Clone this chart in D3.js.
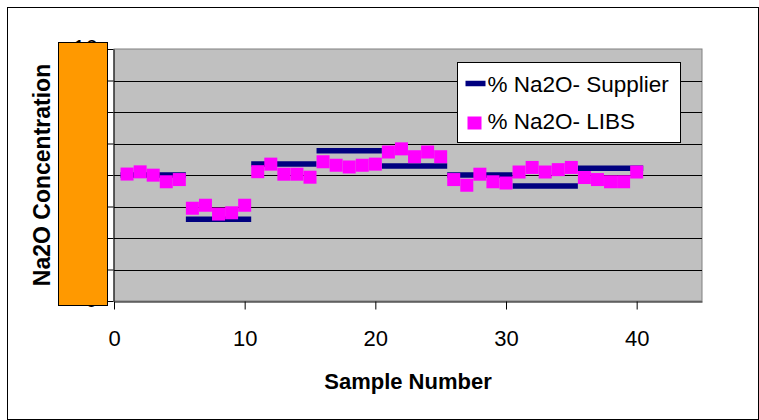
<!DOCTYPE html>
<html>
<head>
<meta charset="utf-8">
<script src="https://cdnjs.cloudflare.com/ajax/libs/d3/7.8.5/d3.min.js"></script>
<style>
  body { margin: 0; background: #fff; }
  text { font-family: "Liberation Sans", Arial, sans-serif; fill: #000; }
</style>
</head>
<body>
<div id="chart"></div>
<script>
// data
var samples = d3.range(1, 41);
var libs = [8.06, 8.20, 7.99, 7.57, 7.71, 5.89, 6.08, 5.52, 5.60, 6.08,
            8.21, 8.69, 8.05, 8.05, 7.86, 8.84, 8.62, 8.51, 8.62, 8.69,
            9.46, 9.66, 9.16, 9.46, 9.16, 7.71, 7.35, 8.05, 7.57, 7.49,
            8.19, 8.48, 8.19, 8.34, 8.48, 7.84, 7.71, 7.57, 7.57, 8.19];
// supplier value per group of 5 samples
var groupStart = [1, 6, 11, 16, 21, 26, 31, 36];
var groupEnd = [5, 10, 15, 20, 25, 30, 35, 40];
var supplier = [8.0, 5.19, 8.70, 9.54, 8.57, 8.0, 7.30, 8.43];
var xTicks = [0, 10, 20, 30, 40];
var yTicks = [0, 2, 4, 6, 8, 10, 12, 14, 16];

var W = 759, H = 420;
var margin = { top: 49, left: 114, bottom: 119, right: 57 },
    width = W - margin.left - margin.right,
    height = H - margin.top - margin.bottom;

var root = d3.select('#chart').append('svg')
    .attr('width', W)
    .attr('height', H);

// outer chart border
root.append('rect')
    .attr('x', 7.5).attr('y', 7.5)
    .attr('width', 751).attr('height', 412)
    .attr('fill', '#fff')
    .attr('stroke', '#000');

var svg = root.append('g')
    .attr('transform', 'translate(' + margin.left + ', ' + margin.top + ')');

var x = d3.scaleLinear().domain([0, 45]).range([0, width]);
var y = d3.scaleLinear().domain([0, 16]).range([height, 0]);

// plot area
svg.append('rect')
    .attr('width', width)
    .attr('height', height)
    .attr('fill', '#c0c0c0')
    .attr('stroke', '#808080');

// gridlines
svg.selectAll('.grid')
    .data(yTicks.slice(1, -1))
    .enter()
    .append('line')
    .attr('class', 'grid')
    .attr('x1', 0).attr('x2', width)
    .attr('y1', d => Math.round(y(d)) + 0.5)
    .attr('y2', d => Math.round(y(d)) + 0.5)
    .attr('stroke', '#000');

// x axis
var xAxis = d3.axisBottom(x)
    .tickValues(xTicks)
    .tickSize(8)
    .tickSizeOuter(0);

var gx = svg.append('g')
    .attr('class', 'xAxis')
    .attr('transform', 'translate(0,' + (height + 0.5) + ')')
    .call(xAxis);
gx.select('.domain').attr('stroke', '#000');
gx.selectAll('text')
    .attr('dy', null)
    .attr('y', 44)
    .style('font-size', '22px')
    .style('font-family', '"Liberation Sans", Arial, sans-serif');

// y axis (labels sit under the orange block)
var yAxis = d3.axisLeft(y)
    .tickValues(yTicks)
    .tickSize(6)
    .tickSizeOuter(0);

var gy = svg.append('g')
    .attr('class', 'axis')
    .attr('transform', 'translate(-0.5,0)')
    .call(yAxis);
gy.selectAll('text')
    .attr('x', -16)
    .attr('dy', '0.27em')
    .style('font-size', '22px')
    .style('font-family', '"Liberation Sans", Arial, sans-serif');

// supplier values, thick dashes per group
svg.selectAll('.supplier')
    .data(supplier)
    .enter()
    .append('line')
    .attr('class', 'supplier')
    .attr('x1', (d, i) => x(groupStart[i] - 0.5))
    .attr('x2', (d, i) => x(groupEnd[i] + 0.5))
    .attr('y1', d => y(d))
    .attr('y2', d => y(d))
    .attr('stroke', '#000080')
    .attr('stroke-width', 5.5);

// LIBS values
var sq = 13;
svg.selectAll('.libs')
    .data(libs)
    .enter()
    .append('rect')
    .attr('class', 'libs')
    .attr('x', (d, i) => x(samples[i]) - sq / 2)
    .attr('y', d => y(d) - sq / 2)
    .attr('width', sq)
    .attr('height', sq)
    .attr('fill', '#ff00ff');

// orange block over the y labels
root.append('rect')
    .attr('x', 58.5).attr('y', 42.5)
    .attr('width', 49).attr('height', 263)
    .attr('fill', '#ff9900')
    .attr('stroke', '#000');

// legend
var legend = root.append('g')
    .attr('transform', 'translate(457.5, 62.5)');

legend.append('rect')
    .attr('width', 223).attr('height', 80)
    .attr('fill', '#fff')
    .attr('stroke', '#000');

legend.append('line')
    .attr('x1', 8).attr('x2', 28)
    .attr('y1', 21).attr('y2', 21)
    .attr('stroke', '#000080')
    .attr('stroke-width', 5.5);

legend.append('text')
    .attr('x', 30).attr('y', 29)
    .style('font-size', '22.5px')
    .text('% Na2O- Supplier');

legend.append('rect')
    .attr('x', 10).attr('y', 54)
    .attr('width', 14).attr('height', 13)
    .attr('fill', '#ff00ff');

legend.append('text')
    .attr('x', 30).attr('y', 66)
    .style('font-size', '22.5px')
    .text('% Na2O- LIBS');

// axis titles
root.append('text')
    .attr('x', margin.left + width / 2)
    .attr('y', 389)
    .attr('text-anchor', 'middle')
    .style('font-size', '22px')
    .style('font-weight', 'bold')
    .text('Sample Number');

root.append('text')
    .attr('transform', 'translate(50,' + (margin.top + height / 2) + ') rotate(-90)')
    .attr('text-anchor', 'middle')
    .style('font-size', '23px')
    .style('font-weight', 'bold')
    .text('Na2O Concentration');
</script>
</body>
</html>
